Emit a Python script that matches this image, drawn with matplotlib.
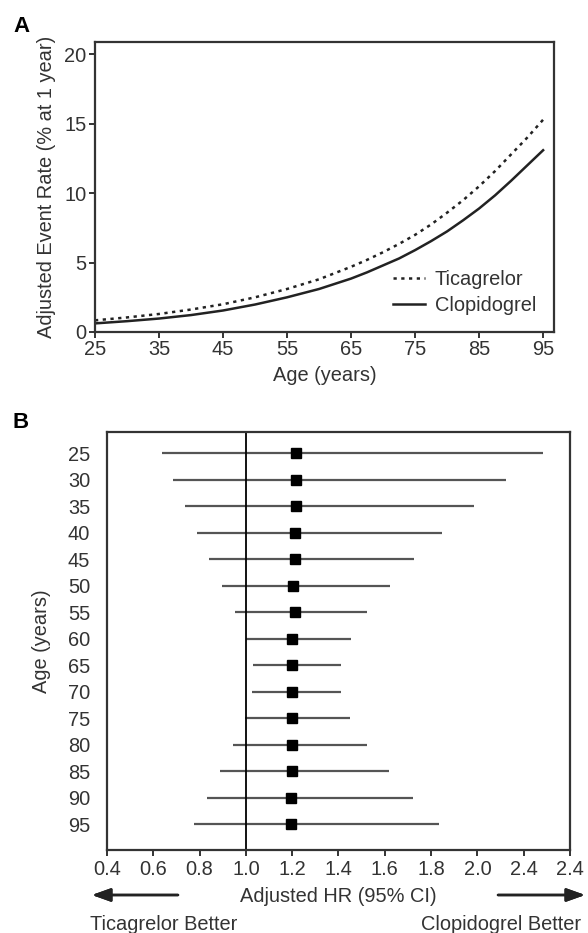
import matplotlib.pyplot as plt

plt.rcParams['font.family'] = ['Liberation Sans', 'DejaVu Sans']

# panel A: adjusted event rate by age
ages_a = [25, 30, 35, 40, 45, 50, 55, 60, 65, 67.5, 70, 72.5, 75, 77.5, 80, 82.5, 85, 87.5, 90, 92.5, 95]
ticagrelor = [0.84, 1.05, 1.3, 1.62, 2.0, 2.5, 3.1, 3.8, 4.7, 5.2, 5.75, 6.35, 7.0, 7.75, 8.6, 9.5,
              10.5, 11.6, 12.8, 14.0, 15.3]
clopidogrel = [0.62, 0.78, 0.97, 1.22, 1.55, 1.98, 2.5, 3.1, 3.85, 4.3, 4.8, 5.3, 5.9, 6.55, 7.25, 8.05,
               8.9, 9.85, 10.9, 12.0, 13.1]

# panel B: adjusted HR with 95% CI by age
ages_b = [25, 30, 35, 40, 45, 50, 55, 60, 65, 70, 75, 80, 85, 90, 95]
hr = [1.218, 1.215, 1.215, 1.21, 1.21, 1.205, 1.21, 1.20, 1.20, 1.20, 1.198, 1.198, 1.198, 1.195, 1.195]
ci_lo = [0.638, 0.687, 0.738, 0.790, 0.842, 0.896, 0.952, 1.002, 1.032, 1.027, 0.994, 0.944, 0.887, 0.831, 0.777]
ci_hi = [2.283, 2.125, 1.984, 1.849, 1.728, 1.623, 1.525, 1.453, 1.409, 1.409, 1.449, 1.525, 1.616, 1.721, 1.836]
hr_ticks = [0.4, 0.6, 0.8, 1.0, 1.2, 1.4, 1.6, 1.8, 2.0, 2.2, 2.4]
hr_ticklabels = ['0.4', '0.6', '0.8', '1.0', '1.2', '1.4', '1.6', '1.8', '2.0', '2.4', '2.4']

W, H = 588, 933
txt = '#333333'
fs = 14.4

fig = plt.figure(figsize=(W / 100, H / 100), dpi=100)

def style_frame(ax):
    for s in ax.spines.values():
        s.set_linewidth(1.6)
        s.set_color('#333333')

# ---- panel A
ax1 = fig.add_axes([95 / W, 1 - 332 / H, (554 - 95) / W, (332 - 42) / H])
ax1.plot(ages_a, ticagrelor, color='#222222', lw=1.8, ls=(0, (1.3, 1.8)), label='Ticagrelor')
ax1.plot(ages_a, clopidogrel, color='#222222', lw=1.8, label='Clopidogrel')
ax1.set_xlim(25, 96.7)
ax1.set_ylim(0, 20.9)
ax1.set_xticks([25, 35, 45, 55, 65, 75, 85, 95])
ax1.set_yticks([0, 5, 10, 15, 20])
ax1.tick_params(length=4, width=1.4, color='#333333', labelsize=fs, labelcolor=txt, pad=2)
style_frame(ax1)
ax1.set_xlabel('Age (years)', fontsize=fs, color=txt, labelpad=5)
ax1.set_ylabel('Adjusted Event Rate (% at 1 year)', fontsize=fs, color=txt, labelpad=6)
ax1.legend(loc='lower right', frameon=False, fontsize=fs, handlelength=1.6,
           handletextpad=0.5, labelspacing=0.35, labelcolor=txt,
           bbox_to_anchor=(1.0, -0.005))

# ---- panel B
ax2 = fig.add_axes([107 / W, 1 - 850 / H, (570 - 107) / W, (850 - 432) / H])
rows = list(range(len(ages_b)))
ax2.hlines(rows, ci_lo, ci_hi, color='#555555', lw=1.6)
ax2.plot(hr, rows, ls='none', marker='s', ms=6.5, color='black')
ax2.axvline(1.0, color='black', lw=1.3)
ax2.set_xlim(0.4, 2.4)
ax2.set_ylim(len(ages_b) - 0.02, -0.8)
ax2.set_xticks(hr_ticks)
ax2.set_xticklabels(hr_ticklabels)
ax2.set_yticks(rows)
ax2.set_yticklabels([str(a) for a in ages_b])
ax2.tick_params(axis='x', length=4, width=1.4, color='#333333', labelsize=fs, labelcolor=txt, pad=3)
ax2.tick_params(axis='y', length=0, labelsize=fs, labelcolor=txt, pad=12)
style_frame(ax2)
ax2.set_ylabel('Age (years)', fontsize=fs, color=txt, labelpad=12)

fig.text(338 / W, 1 - 896 / H, 'Adjusted HR (95% CI)', fontsize=fs, color=txt, ha='center', va='center')
fig.text(90 / W, 1 - 925 / H, 'Ticagrelor Better', fontsize=fs, color=txt, ha='left', va='center')
fig.text(421 / W, 1 - 925 / H, 'Clopidogrel Better', fontsize=fs, color=txt, ha='left', va='center')

arrow = dict(arrowstyle='-|>,head_length=0.7,head_width=0.25', color='#222222', lw=1.8,
             mutation_scale=16, shrinkA=0, shrinkB=0)
fig.add_artist(plt.annotate('', xy=(92, H - 895), xytext=(178, H - 895),
                            xycoords='figure pixels', textcoords='figure pixels', arrowprops=arrow))
fig.add_artist(plt.annotate('', xy=(585, H - 895), xytext=(498, H - 895),
                            xycoords='figure pixels', textcoords='figure pixels', arrowprops=arrow))

fig.text(13 / W, 1 - 26 / H, 'A', fontsize=16, fontweight='bold', ha='left', va='center')
fig.text(13 / W, 1 - 422 / H, 'B', fontsize=16, fontweight='bold', ha='left', va='center')

fig.savefig('out.png', dpi=100)
